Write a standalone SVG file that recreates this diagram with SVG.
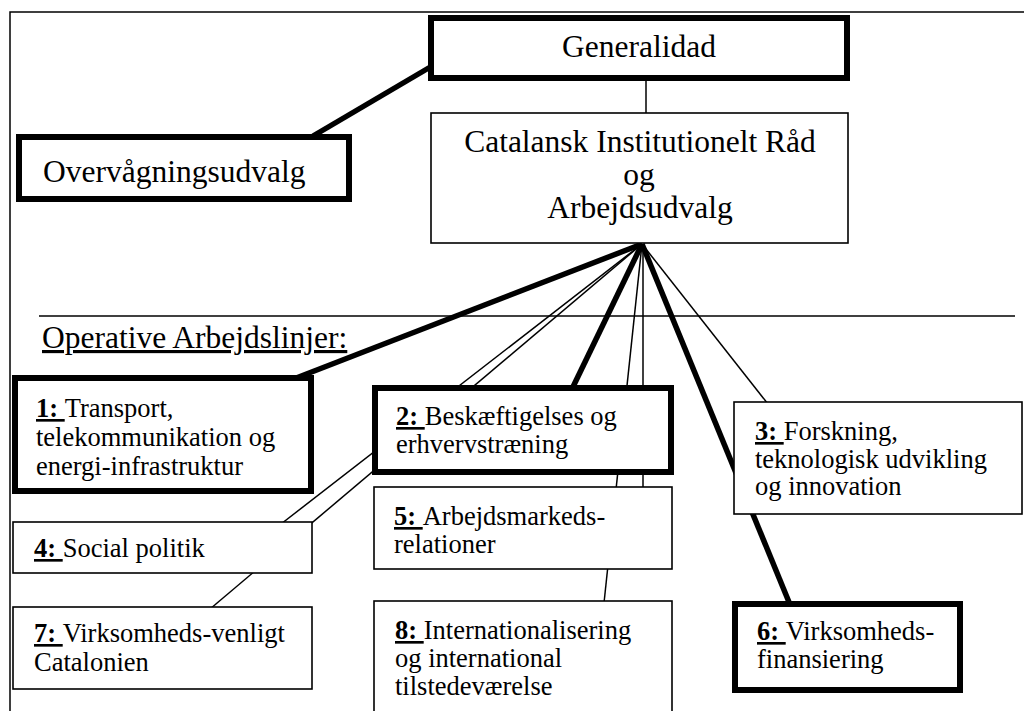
<svg xmlns="http://www.w3.org/2000/svg" width="1024" height="711" viewBox="0 0 1024 711">
<style>
text{font-family:"Liberation Serif","Times New Roman",serif;fill:#000}
.big{font-size:31.5px}
.sm{font-size:26.5px}
.num{font-weight:bold;text-decoration:underline}
.bx-thick{fill:#fff;stroke:#000;stroke-width:6}
.bx-thin{fill:#fff;stroke:#000;stroke-width:1.6}
.ln-thick{stroke:#000;stroke-width:5.5;fill:none}
.ln-thin{stroke:#000;stroke-width:1.5;fill:none}
</style>
<rect width="1024" height="711" fill="#fff"/>
<g id="frame">
<path d="M10,711 V12 H1024" fill="none" stroke="#000" stroke-width="1.5"/>
<line x1="39" y1="316" x2="1015" y2="316" stroke="#000" stroke-width="1.5"/>
</g>
<g id="connectors">
<line class="ln-thick" x1="313" y1="136" x2="432" y2="66"/>
<line class="ln-thin" x1="646" y1="78" x2="646" y2="114"/>
<line class="ln-thick" x1="642" y1="244" x2="291" y2="380"/>
<line class="ln-thin" x1="642" y1="244" x2="281" y2="524"/>
<line class="ln-thin" x1="642" y1="244" x2="210" y2="609"/>
<line class="ln-thick" x1="642" y1="244" x2="571" y2="391"/>
<line class="ln-thin" x1="642" y1="244" x2="604" y2="603"/>
<line class="ln-thin" x1="643" y1="244" x2="643" y2="489"/>
<line class="ln-thick" x1="642" y1="244" x2="791" y2="607"/>
<line class="ln-thin" x1="642" y1="244" x2="768" y2="404"/>
</g>
<g id="generalidad">
<rect class="bx-thick" x="431" y="18" width="416" height="60"/>
<text class="big" x="639" y="57" text-anchor="middle">Generalidad</text>
</g>
<g id="overvaagning">
<rect class="bx-thick" x="19" y="137" width="330" height="62"/>
<text class="big" x="43" y="182">Overvågningsudvalg</text>
</g>
<g id="raad">
<rect class="bx-thin" x="431" y="113" width="417" height="130"/>
<text class="big" text-anchor="middle"><tspan x="640" y="152">Catalansk Institutionelt Råd</tspan><tspan x="639" y="185">og</tspan><tspan x="640" y="218">Arbejdsudvalg</tspan></text>
</g>
<g id="heading">
<text class="big" x="42" y="348" text-decoration="underline">Operative Arbejdslinjer:</text>
</g>
<g id="line1">
<rect class="bx-thick" x="15" y="378" width="296" height="113"/>
<text class="sm"><tspan x="36" y="417"><tspan class="num">1: </tspan>Transport,</tspan><tspan x="36" y="446">telekommunikation og</tspan><tspan x="36" y="475">energi-infrastruktur</tspan></text>
</g>
<g id="line2">
<rect class="bx-thick" x="375" y="388" width="296" height="84"/>
<text class="sm"><tspan x="396" y="425"><tspan class="num">2: </tspan>Beskæftigelses og</tspan><tspan x="396" y="453">erhvervstræning</tspan></text>
</g>
<g id="line3">
<rect class="bx-thin" x="734" y="402" width="288" height="112"/>
<text class="sm"><tspan x="755" y="440"><tspan class="num">3: </tspan>Forskning,</tspan><tspan x="755" y="467.5">teknologisk udvikling</tspan><tspan x="755" y="495">og innovation</tspan></text>
</g>
<g id="line4">
<rect class="bx-thin" x="13" y="522" width="299" height="51"/>
<text class="sm"><tspan x="34" y="557"><tspan class="num">4: </tspan>Social politik</tspan></text>
</g>
<g id="line5">
<rect class="bx-thin" x="374" y="487" width="298" height="82"/>
<text class="sm"><tspan x="394" y="525"><tspan class="num">5: </tspan>Arbejdsmarkeds-</tspan><tspan x="394" y="553">relationer</tspan></text>
</g>
<g id="line6">
<rect class="bx-thick" x="735" y="604" width="225" height="86"/>
<text class="sm"><tspan x="757" y="640"><tspan class="num">6: </tspan>Virksomheds-</tspan><tspan x="757" y="668">finansiering</tspan></text>
</g>
<g id="line7">
<rect class="bx-thin" x="13" y="607" width="299" height="82"/>
<text class="sm"><tspan x="34" y="642"><tspan class="num">7: </tspan>Virksomheds-venligt</tspan><tspan x="34" y="671">Catalonien</tspan></text>
</g>
<g id="line8">
<rect class="bx-thin" x="374" y="601" width="298" height="130"/>
<text class="sm"><tspan x="395" y="639"><tspan class="num">8: </tspan>Internationalisering</tspan><tspan x="395" y="667">og international</tspan><tspan x="395" y="695">tilstedeværelse</tspan></text>
</g>
</svg>
